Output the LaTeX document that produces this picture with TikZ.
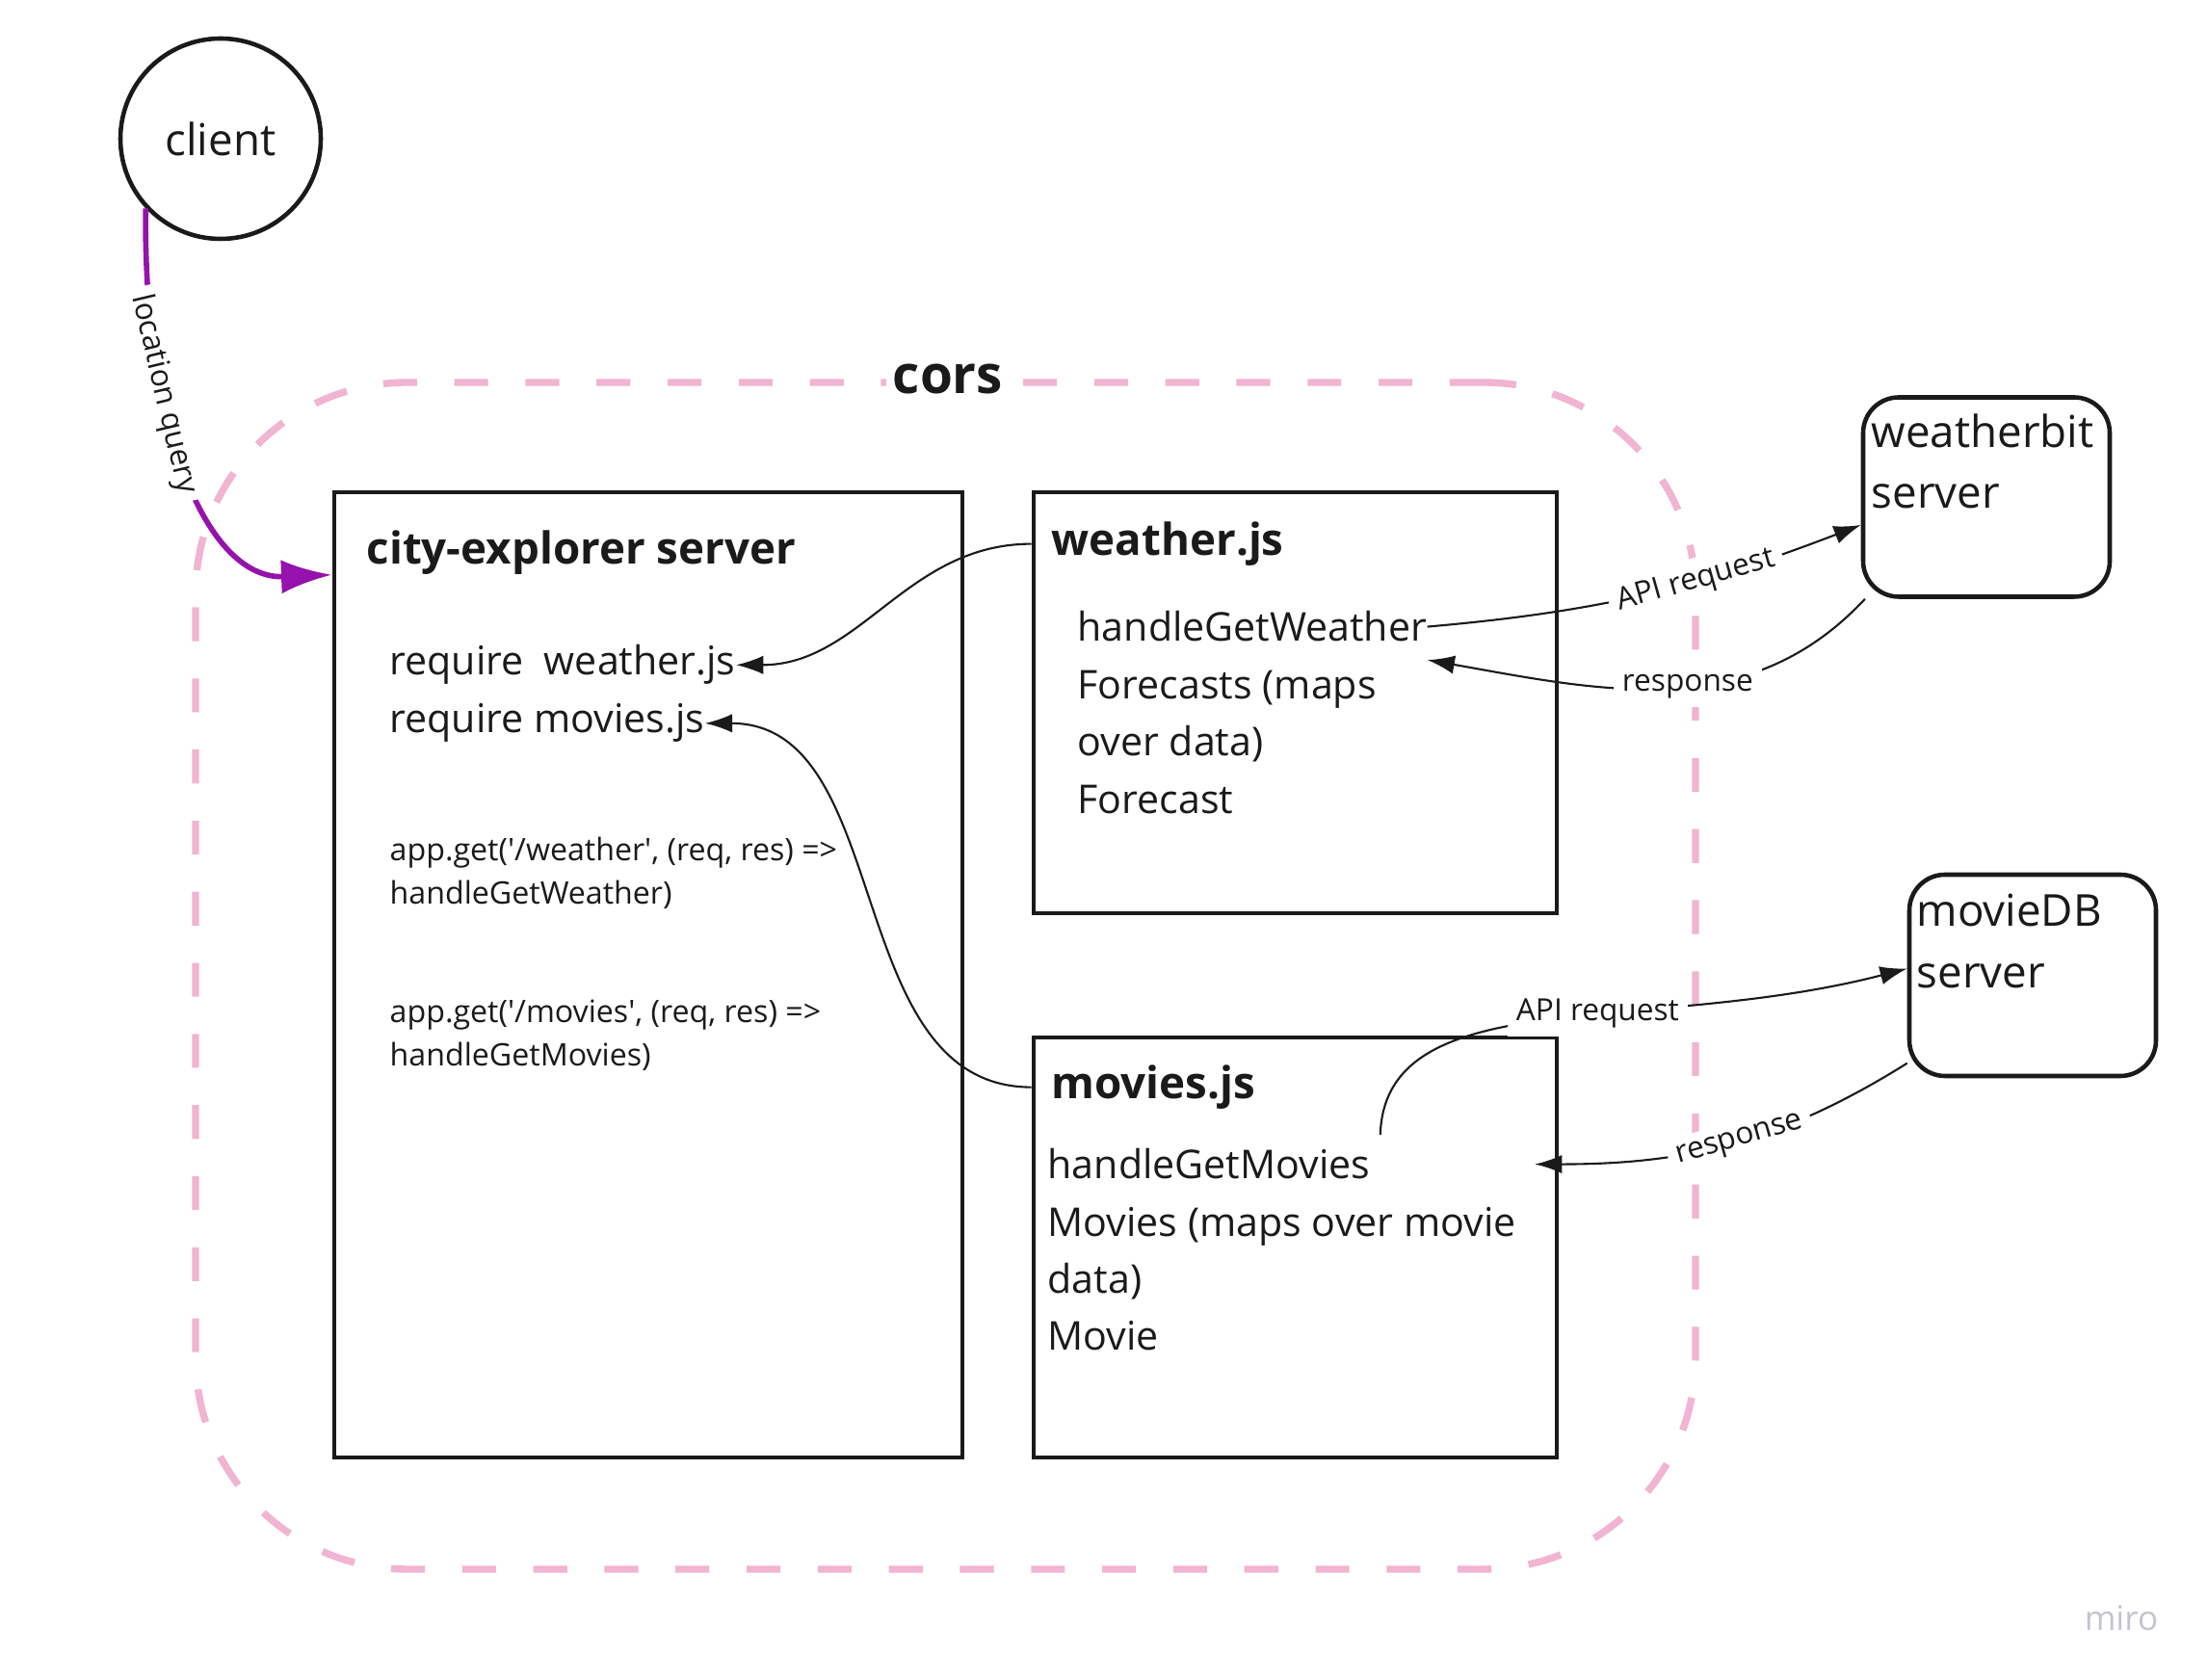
\documentclass[tikz,border=0pt]{standalone}
\usepackage{fontspec}
\setmainfont{Open Sans}
\usetikzlibrary{arrows.meta,calc}

\definecolor{corspink}{RGB}{241,180,210}
\definecolor{querypurple}{RGB}{150,18,172}
\definecolor{mirogray}{RGB}{196,196,208}
\definecolor{ink}{RGB}{26,26,26}

\tikzset{
  module/.style={shape=rectangle, draw=ink, line width=1.3pt},
  remote/.style={module, rounded corners=0.37cm, minimum width=2.56cm, minimum height=2.07cm},
  title/.style={anchor=base west, inner sep=0pt, text=ink, font=\fontsize{13}{16}\selectfont\bfseries},
  body/.style={anchor=base west, inner sep=0pt, text=ink, font=\fontsize{11.7}{15}\selectfont},
  hostname/.style={anchor=base west, inner sep=0pt, text=ink, font=\fontsize{13}{16}\selectfont},
  code/.style={anchor=base west, inner sep=0pt, text=ink, font=\fontsize{9.15}{12}\selectfont},
  call/.style={-{Latex[length=8pt,width=5.5pt]}, line width=0.6pt, draw=ink},
  query/.style={-{Latex[length=15pt,width=10pt]}, line width=1.6pt, draw=querypurple},
  tag/.style={fill=white, inner sep=2.5pt, text=ink, font=\fontsize{9}{11}\selectfont},
}

\begin{document}
\begin{tikzpicture}
          \useasboundingbox (0,0) rectangle (22.92,17.44);

          % cors
          \node[draw=corspink, line width=2.1pt, dash pattern=on 10pt off 11pt,
                rounded corners=2.2cm, minimum width=15.57cm, minimum height=12.32cm] at (9.815,7.31)
          (corsarea) {};
          \node[fill=white, inner sep=2pt, text=ink, font=\fontsize{15.6}{18}\selectfont\bfseries] at (9.84,13.50)
          (cors) {cors};

          % nodes
          \node[shape=circle, draw=ink, line width=1.3pt, minimum size=2.08cm, text=ink,
                font=\fontsize{13}{16}\selectfont] at (2.29,16.00)
          (client) {client};

          \node[module, minimum width=6.52cm, minimum height=10.02cm] at (6.73,7.32)
          (city) {};
          \node[module, minimum width=5.43cm, minimum height=4.37cm] at (13.445,10.145)
          (weather) {};
          \node[module, minimum width=5.43cm, minimum height=4.36cm] at (13.445,4.49)
          (movies) {};
          \node[remote] at (20.62,12.28)
          (weatherbit) {};
          \node[remote, minimum height=2.09cm] at (21.10,7.315)
          (moviedb) {};

          % city-explorer server
          \node[title] at (3.80,11.585) (cityhead) {city-explorer server};
          \node[body] at (4.04,10.43) (rweather) {require\ \ weather.js};
          \node[body] at (4.04,9.83) (rmovies) {require movies.js};
          \node[code] at (4.04,8.50) (getw1) {app.get(\textquotesingle/weather\textquotesingle, (req, res) =>};
          \node[code] at (4.04,8.05) (getw2) {handleGetWeather)};
          \node[code] at (4.04,6.82) (getm1) {app.get(\textquotesingle/movies\textquotesingle, (req, res) =>};
          \node[code] at (4.04,6.37) (getm2) {handleGetMovies)};

          % weather.js
          \node[title] at (10.91,11.675) (wjs) {weather.js};
          \node[body] at (11.18,10.78) (hgw) {handleGetWeather};
          \node[body] at (11.18,10.18) (fcs1) {Forecasts (maps};
          \node[body] at (11.18,9.59) (fcs2) {over data)};
          \node[body] at (11.18,8.99) (fc) {Forecast};

          % movies.js
          \node[title] at (10.91,6.035) (mjs) {movies.js};
          \node[body] at (10.87,5.20) (hgm) {handleGetMovies};
          \node[body] at (10.87,4.60) (mvs1) {Movies (maps over movie};
          \node[body] at (10.87,4.01) (mvs2) {data)};
          \node[body] at (10.87,3.42) (mv) {Movie};

          % outside servers
          \node[hostname] at (19.42,12.795) (wbname) {weatherbit};
          \node[hostname] at (19.42,12.165) (wbserver) {server};
          \node[hostname] at (19.89,7.825) (mdbname) {movieDB};
          \node[hostname] at (19.89,7.185) (mdbserver) {server};

          \node[text=mirogray, font=\fontsize{10}{12}\selectfont] at (22.02,0.64)
          (miro) {miro};

          % arcs
          \draw[call] (weather.west |- wjs) to[out=180, in=0] (rweather.east);
          \draw[call] (movies.west |- mjs) to[out=180, in=0] (rmovies.east);
          \draw[call] (hgw.east) to[out=5, in=201]
            node[tag, sloped, pos=0.62] {API request} ([yshift=-0.29cm]weatherbit.west);
          \draw[call] (weatherbit.-140) to[out=227, in=-10]
            node[tag, pos=0.45] {response} ([yshift=-0.18cm]hgw.south east);
          \draw[call] ([xshift=0.1cm,yshift=0.14cm]hgm.north east)
            .. controls +(0.05,1.6) and +(-2.7,-0.7) ..
            ([yshift=0.07cm]moviedb.west) node[tag, pos=0.58] {API request};
          \draw[call] (moviedb.-145) to[out=212, in=0]
            node[tag, sloped, pos=0.47] {response} ($(movies.east |- hgm.east)+(-0.25,0)$);

          \draw[query] (client.-137) .. controls (1.48,13.14) and (2.10,11.42) ..
            ([yshift=-0.88cm]city.north west) node[tag, sloped, pos=0.33] {location query};
        \end{tikzpicture}
\end{document}
